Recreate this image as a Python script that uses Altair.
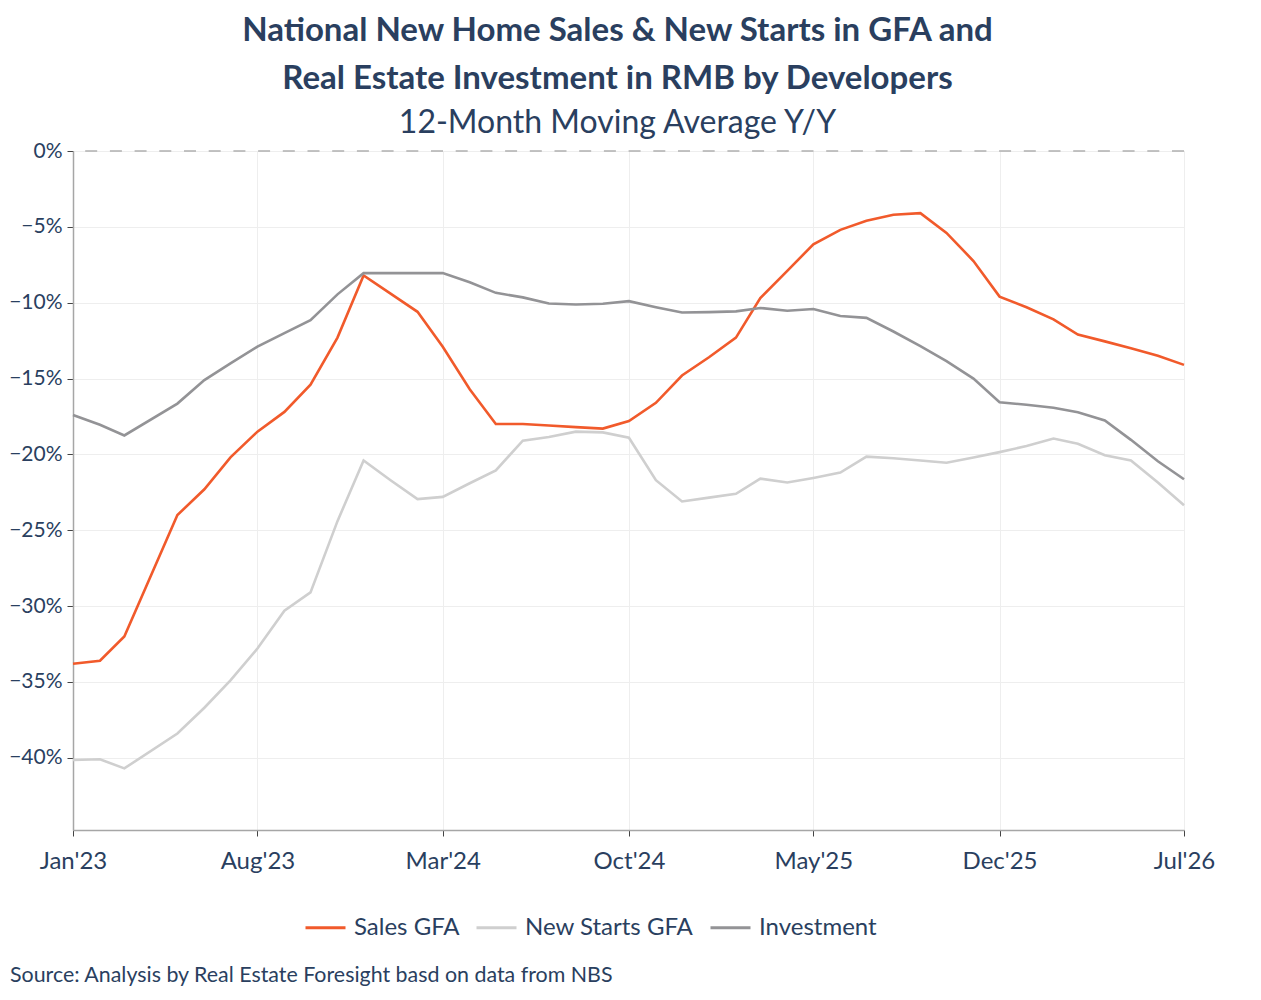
import altair as alt
import pandas as pd

# Month labels (Apr'23 not shown in the source series)
months = [
    "2023-01-01", "2023-02-01", "2023-03-01", "2023-05-01", "2023-06-01",
    "2023-07-01", "2023-08-01", "2023-09-01", "2023-10-01", "2023-11-01",
    "2023-12-01", "2024-01-01", "2024-02-01", "2024-03-01", "2024-04-01",
    "2024-05-01", "2024-06-01", "2024-07-01", "2024-08-01", "2024-09-01",
    "2024-10-01", "2024-11-01", "2024-12-01", "2025-01-01", "2025-02-01",
    "2025-03-01", "2025-04-01", "2025-05-01", "2025-06-01", "2025-07-01",
    "2025-08-01", "2025-09-01", "2025-10-01", "2025-11-01", "2025-12-01",
    "2026-01-01", "2026-02-01", "2026-03-01", "2026-04-01", "2026-05-01",
    "2026-06-01", "2026-07-01",
]

sales_gfa = [
    -33.8, -33.6, -32.0, -24.0, -22.3,
    -20.2, -18.5, -17.2, -15.4, -12.3,
    -8.2, -9.4, -10.6, -12.9, -15.7,
    -18.0, -18.0, -18.1, -18.2, -18.3,
    -17.8, -16.6, -14.8, -13.6, -12.3,
    -9.7, -7.9, -6.15, -5.2, -4.6,
    -4.2, -4.1, -5.4, -7.25, -9.6,
    -10.3, -11.1, -12.1, -12.55, -13.0,
    -13.5, -14.1,
]

new_starts_gfa = [
    -40.15, -40.1, -40.7, -38.4, -36.7,
    -34.9, -32.8, -30.3, -29.1, -24.4,
    -20.4, -21.7, -22.95, -22.8, -21.9,
    -21.05, -19.1, -18.85, -18.5, -18.55,
    -18.9, -21.7, -23.1, -22.85, -22.6,
    -21.6, -21.85, -21.55, -21.2, -20.15,
    -20.25, -20.4, -20.55, -20.2, -19.85,
    -19.45, -18.95, -19.3, -20.05, -20.4,
    -21.85, -23.35,
]

investment = [
    -17.4, -18.05, -18.75, -16.65, -15.1,
    -14.0, -12.9, -12.0, -11.15, -9.45,
    -8.05, -8.05, -8.05, -8.05, -8.65,
    -9.35, -9.65, -10.05, -10.12, -10.07,
    -9.9, -10.3, -10.65, -10.62, -10.57,
    -10.35, -10.53, -10.42, -10.88, -11.0,
    -11.9, -12.86, -13.85, -15.0, -16.56,
    -16.73, -16.93, -17.22, -17.76, -19.04,
    -20.45, -21.64,
]

series_names = ["Sales GFA", "New Starts GFA", "Investment"]
series_colors = ["#f15a2b", "#cfcfcf", "#939396"]

tick_dates = ["2023-01-01", "2023-08-01", "2024-03-01", "2024-10-01",
              "2025-05-01", "2025-12-01", "2026-07-01"]
y_ticks = [0, -5, -10, -15, -20, -25, -30, -35, -40]

title_lines = ["National New Home Sales & New Starts in GFA and",
               "Real Estate Investment in RMB by Developers"]
subtitle_text = "12-Month Moving Average Y/Y"
source_text = "Source: Analysis by Real Estate Foresight basd on data from NBS"

FONT = "Lato"
TEXT_COLOR = "#2a3f5f"

rows = []
for name, vals in zip(series_names, [sales_gfa, new_starts_gfa, investment]):
    for d, v in zip(months, vals):
        rows.append({"date": d, "value": v, "series": name})
df = pd.DataFrame(rows)

def dt(s):
    y, m, d = s.split("-")
    return alt.DateTime(year=int(y), month=int(m), date=int(d), utc=True)

x_scale = alt.Scale(type="utc", domain=[dt("2023-01-01"), dt("2026-07-01")])
y_scale = alt.Scale(domain=[-44.76, 0], nice=False, zero=False)

lines = alt.Chart(df).mark_line(strokeWidth=2.6, clip=False).encode(
    x=alt.X("date:T", scale=x_scale, title=None,
            axis=alt.Axis(values=[dt(t) for t in tick_dates], format="%b'%y",
                          labelFont=FONT, labelFontSize=24, labelColor=TEXT_COLOR,
                          labelPadding=13, tickSize=6, tickColor="#444444",
                          domainColor="#a6a6a6", domainWidth=1.5,
                          gridColor="#eeeeee", grid=True, labelFlush=False)),
    y=alt.Y("value:Q", scale=y_scale, title=None,
            axis=alt.Axis(values=y_ticks,
                          labelExpr="replace(format(datum.value, 'd'), '-', '\u2212') + '%'",
                          labelFont=FONT, labelFontSize=21, labelColor=TEXT_COLOR,
                          labelPadding=5, tickSize=6, tickColor="#444444",
                          domainColor="#a6a6a6", domainWidth=1.5,
                          gridColor="#eeeeee", grid=True)),
    color=alt.Color("series:N",
                    scale=alt.Scale(domain=series_names, range=series_colors),
                    sort=series_names,
                    legend=alt.Legend(title=None, orient="none", direction="horizontal",
                                      legendX=231, legendY=755, symbolType="stroke",
                                      symbolSize=1600, symbolStrokeWidth=3,
                                      labelFont=FONT, labelFontSize=24, labelLimit=400,
                                      labelColor=TEXT_COLOR, labelOffset=7,
                                      columnPadding=10, padding=0)),
    order=alt.Order("date:T"),
)

zero_df = pd.DataFrame({"value": [0]})
zero_line = alt.Chart(zero_df).mark_rule(color="#b0b0b0", strokeWidth=1.3,
                                         strokeDash=[12, 12.7]).encode(y="value:Q")

src_df = pd.DataFrame({"label": [source_text]})
source = alt.Chart(src_df).mark_text(align="left", baseline="alphabetic",
                                      font=FONT, fontSize=21.4, color=TEXT_COLOR).encode(
    x=alt.value(-63), y=alt.value(831), text="label:N")

chart = alt.layer(zero_line, lines, source).properties(
    width=1111, height=679,
    title=alt.TitleParams(text=title_lines, subtitle=subtitle_text, anchor="middle",
                          font=FONT, fontSize=33, fontWeight="bold", color=TEXT_COLOR,
                          subtitleFont=FONT, subtitleFontSize=32, subtitleColor=TEXT_COLOR,
                          lineHeight=48, subtitlePadding=12, offset=1, dx=-11),
    autosize=alt.AutoSizeParams(type="none"),
    padding={"left": 65, "top": 143, "right": 69, "bottom": 160},
).configure_view(stroke=None).configure(background="white")

chart.save("out.html", embed_options={"renderer": "svg", "actions": False})
